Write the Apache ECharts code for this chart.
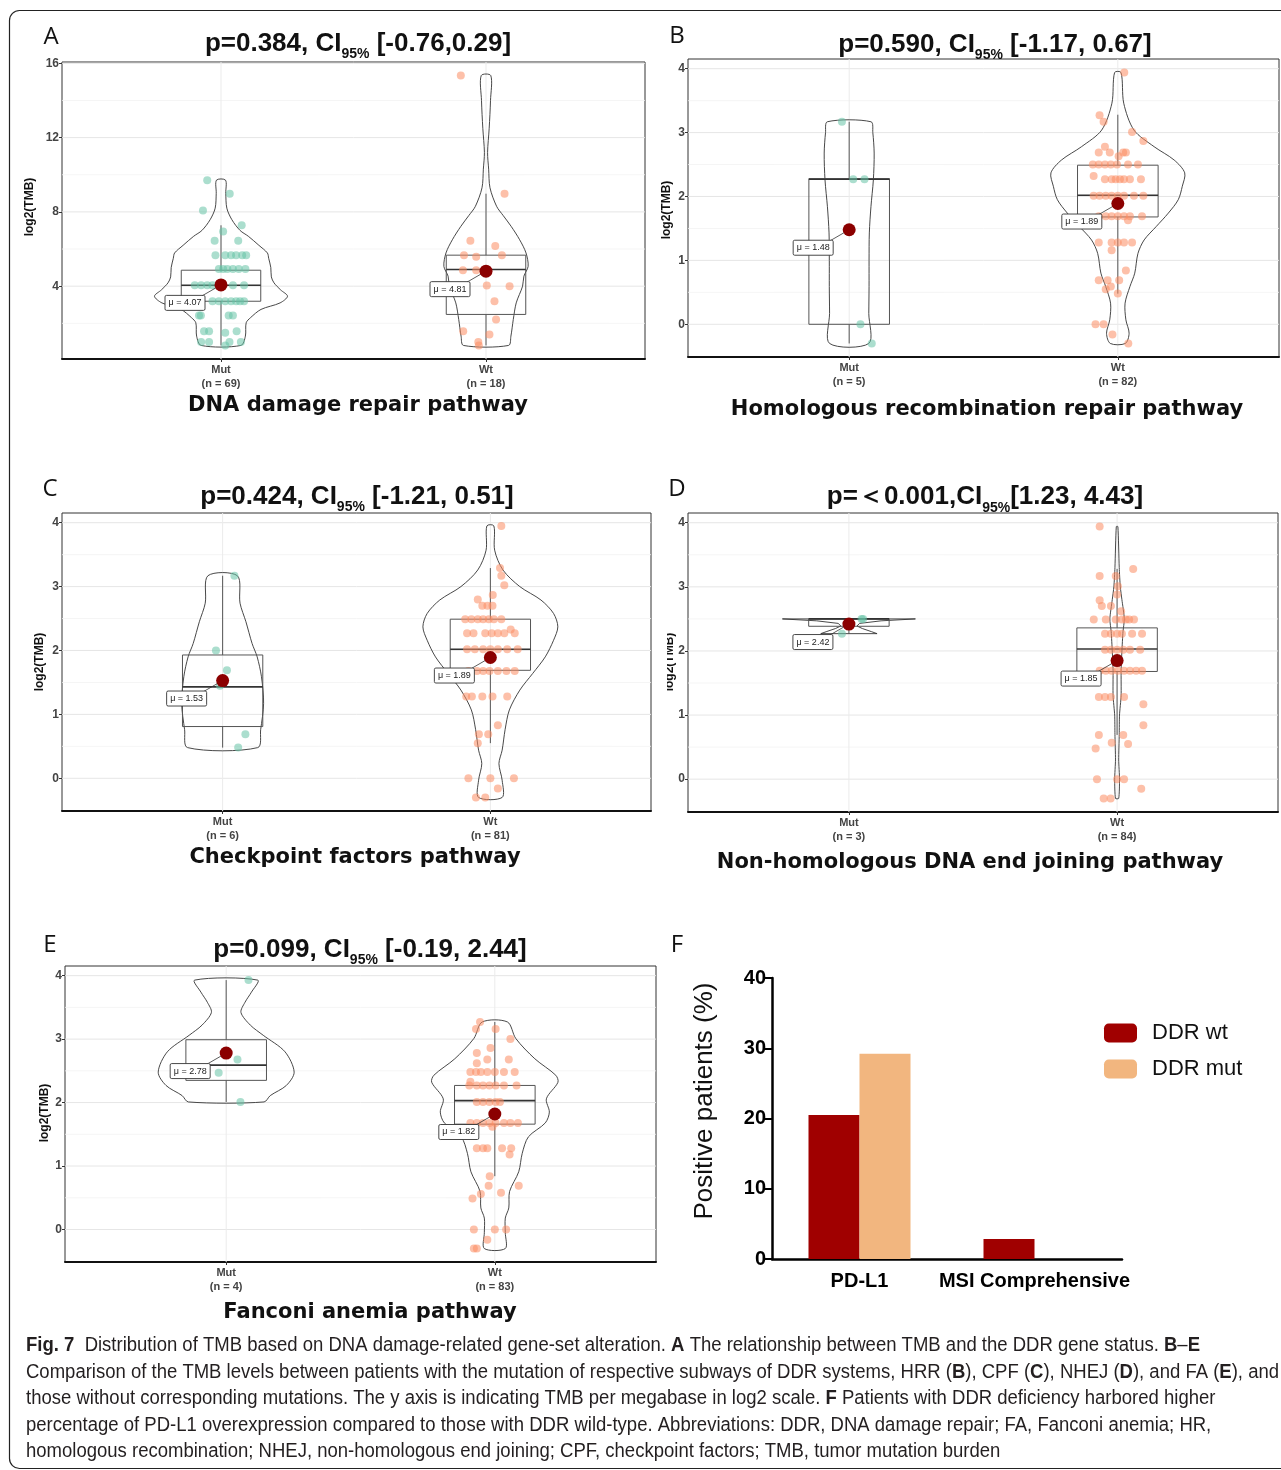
<!DOCTYPE html>
<html><head><meta charset="utf-8">
<script src="https://cdn.jsdelivr.net/npm/echarts@6/dist/echarts.min.js"></script>
<style>html,body{margin:0;padding:0;background:#fff}#c{width:1281px;height:1470px}</style>
</head><body><div id="c"></div>
<script>
// ================= DATA =================
const groups = ['Mut', 'Wt'];
const yTicksA = [4, 8, 12, 16];
const yMinorA = [2, 6, 10, 14];
const yTicksBE = [0, 1, 2, 3, 4];
const yMinorBE = [0.5, 1.5, 2.5, 3.5];

// ---- Panel A : DNA damage repair pathway ----
const A_n = [69, 18];
const A_mean = [4.07, 4.81];
// [lower whisker, Q1, median, Q3, upper whisker]
const A_box = [[0.81, 3.19, 4.05, 4.86, 7.28], [0.81, 2.48, 4.90, 5.67, 8.98]];
// points: [jitter offset, log2(TMB)]
const A_mutPts = [[-0.052,9.71],[0.033,8.98],[-0.068,8.08],[0.078,7.28],[0.008,6.94],[-0.024,6.45],[0.065,6.45],
  [-0.021,5.67],[0.016,5.67],[0.038,5.67],[0.057,5.67],[0.080,5.67],[0.095,5.67],
  [-0.008,4.93],[0.008,4.93],[0.024,4.93],[0.045,4.93],[0.067,4.93],[0.092,4.93],
  [-0.099,4.05],[-0.075,4.05],[-0.052,4.05],[-0.032,4.05],[-0.008,4.05],[0.045,4.05],[0.087,4.05],
  [-0.032,3.19],[-0.008,3.19],[0.016,3.19],[0.038,3.19],[0.057,3.19],[0.072,3.19],[0.087,3.19],
  [-0.083,2.42],[-0.076,2.42],[0.029,2.42],[0.045,2.42],
  [-0.064,1.58],[-0.045,1.58],[0.016,1.49],[0.059,1.58],
  [-0.075,0.99],[-0.045,0.99],[0.032,0.99],[0.075,0.99],[0.016,0.81]];
const A_wtPts = [[-0.095,15.34],[0.070,8.98],[-0.059,6.45],[0.035,6.17],[-0.083,5.67],[-0.037,5.58],[0.060,5.67],
  [-0.087,4.86],[-0.037,4.86],[0.003,4.04],[0.089,4.00],[0.032,3.19],[0.038,2.21],[-0.086,1.58],[0.013,1.40],
  [-0.029,0.99],[-0.027,0.81]];
// violin outline: [log2(TMB), half width]
const A_mutViolin = [[0.81,0.075],[1.31,0.092],[2.03,0.095],[2.3,0.111],[2.75,0.151],[3.1,0.223],[3.46,0.251],[3.8,0.225],
  [4.18,0.2],[4.5,0.19],[5.0,0.188],[5.5,0.18],[5.79,0.175],[6.2,0.143],[6.69,0.103],[7.0,0.072],[7.58,0.041],[8.2,0.022],[9.0,0.018],[9.71,0.017]];
const A_wtViolin = [[0.81,0.085],[1.31,0.094],[2.21,0.103],[3.1,0.114],[4.0,0.138],[4.54,0.143],[5.07,0.159],[5.79,0.151],
  [6.5,0.127],[7.22,0.095],[7.8,0.065],[8.3,0.040],[9.3,0.015],[10.3,0.010],[11.2,0.006],[12.5,0.012],[14.0,0.017],[15.34,0.018]];

// ---- Panel B : Homologous recombination repair pathway ----
const B_n = [5, 82];
const B_mean = [1.48, 1.89];
const B_box = [[-0.30, 0.00, 2.27, 2.28, 3.17], [0.48, 1.68, 2.02, 2.49, 3.28]];
const B_mutPts = [[-0.027,3.17],[0.015,2.27],[0.057,2.27],[0.042,0.0],[0.084,-0.30]];
const B_wtPts = [[0.024,3.94],[-0.068,3.27],[-0.053,3.17],[0.053,3.01],[0.095,2.87],[-0.048,2.78],[-0.071,2.69],[-0.030,2.69],
  [0.003,2.63],[0.020,2.69],[0.030,2.69],
  [-0.093,2.50],[-0.071,2.50],[-0.048,2.50],[-0.026,2.50],[-0.003,2.50],[0.038,2.50],[0.075,2.50],
  [-0.090,2.32],
  [-0.048,2.27],[-0.023,2.27],[-0.008,2.27],[0.008,2.27],[0.023,2.27],[0.045,2.27],[0.086,2.27],
  [-0.090,2.01],[-0.068,2.01],[-0.045,2.01],[-0.023,2.01],[0.000,2.01],[0.023,2.01],[0.060,2.01],[0.095,2.01],
  [-0.071,1.69],[-0.045,1.69],[-0.023,1.69],[0.000,1.69],[0.023,1.69],[0.045,1.69],[0.090,1.69],[0.038,1.63],
  [-0.071,1.28],[-0.023,1.28],[0.000,1.28],[0.023,1.28],[0.053,1.28],[-0.023,1.16],[0.030,0.84],
  [-0.071,0.69],[-0.038,0.69],[0.005,0.69],[-0.045,0.55],[-0.026,0.59],[0.000,0.48],
  [-0.083,0.0],[-0.053,0.0],[-0.020,-0.16],[0.039,-0.30]];
const B_mutViolin = [[-0.3,0.073],[0.17,0.073],[0.59,0.074],[1.0,0.074],[1.43,0.075],[1.84,0.081],[2.26,0.09],[2.68,0.093],[3.0,0.088],[3.17,0.081]];
const B_wtViolin = [[-0.3,0.028],[-0.14,0.042],[0.07,0.03],[0.33,0.027],[0.59,0.045],[0.8,0.063],[1.11,0.075],[1.32,0.098],
  [1.53,0.143],[1.74,0.188],[1.95,0.225],[2.16,0.24],[2.37,0.249],[2.57,0.21],[2.78,0.135],[3.04,0.06],[3.46,0.022],[3.94,0.012]];

// ---- Panel C : Checkpoint factors pathway ----
const C_n = [6, 81];
const C_mean = [1.53, 1.89];
const C_box = [[0.48, 0.81, 1.43, 1.93, 3.17], [0.55, 1.69, 2.02, 2.49, 3.29]];
const C_mutPts = [[0.044,3.17],[-0.025,2.0],[0.016,1.69],[0.085,0.69],[0.058,0.48],[-0.010,1.45]];
const C_wtPts = [[0.041,3.95],[0.036,3.29],[0.041,3.17],[0.052,3.02],[-0.047,2.80],[0.009,2.87],[-0.030,2.70],[-0.011,2.70],[0.008,2.70],
  [-0.094,2.49],[-0.071,2.49],[-0.047,2.49],[-0.027,2.49],[-0.006,2.49],[0.013,2.49],[0.041,2.49],[0.076,2.33],
  [-0.087,2.27],[-0.063,2.27],[-0.019,2.27],[0.005,2.27],[0.028,2.27],[0.052,2.27],[0.091,2.27],
  [-0.087,2.02],[-0.058,2.02],[-0.027,2.02],[0.000,2.02],[0.028,2.02],[0.063,2.02],[0.102,2.02],
  [-0.082,1.68],[-0.050,1.68],[-0.027,1.68],[-0.003,1.68],[0.028,1.68],[0.060,1.68],[0.091,1.68],
  [-0.090,1.28],[-0.069,1.28],[-0.030,1.28],[0.008,1.28],[0.063,1.28],[0.028,0.83],
  [-0.043,0.69],[-0.008,0.69],[-0.047,0.55],[-0.082,0.0],[0.000,0.0],[0.088,0.0],[0.028,-0.16],[-0.054,-0.30],[-0.019,-0.30]];
const C_mutViolin = [[0.48,0.131],[0.76,0.142],[1.17,0.153],[1.59,0.145],[1.9,0.129],[2.11,0.11],[2.45,0.087],[2.74,0.065],[3.17,0.055]];
const C_wtViolin = [[-0.30,0.044],[-0.03,0.044],[0.23,0.032],[0.44,0.044],[0.76,0.055],[1.07,0.071],[1.38,0.11],[1.64,0.158],
  [1.9,0.205],[2.16,0.236],[2.37,0.252],[2.58,0.236],[2.79,0.189],[3.0,0.11],[3.26,0.047],[3.57,0.016],[3.95,0.013]];

// ---- Panel D : Non-homologous DNA end joining pathway ----
const D_n = [3, 84];
const D_mean = [2.42, 1.85];
const D_box = [[2.27, 2.385, 2.50, 2.50, 2.50], [0.69, 1.68, 2.03, 2.36, 3.28]];
const D_mutPts = [[0.047,2.5],[0.053,2.5],[-0.026,2.27]];
const D_wtPts = [[-0.065,3.94],[0.060,3.28],[-0.065,3.17],[-0.005,3.17],[0.003,3.01],[0.000,2.88],[-0.065,2.79],[-0.057,2.70],[-0.023,2.70],[0.015,2.62],
  [-0.087,2.49],[-0.042,2.49],[-0.005,2.49],[0.018,2.49],[0.033,2.49],[0.045,2.49],[0.063,2.49],
  [-0.045,2.27],[-0.023,2.27],[0.000,2.27],[0.018,2.27],[0.056,2.27],[0.093,2.27],
  [-0.045,2.02],[-0.023,2.02],[0.000,2.02],[0.023,2.02],[0.048,2.02],[0.086,2.02],
  [-0.065,1.69],[-0.042,1.69],[-0.020,1.69],[0.003,1.69],[0.026,1.69],[0.048,1.69],[0.071,1.69],[0.093,1.69],
  [-0.068,1.28],[-0.045,1.28],[-0.023,1.28],[0.026,1.28],[0.098,1.17],[0.098,0.84],
  [-0.068,0.69],[0.023,0.69],[-0.080,0.48],[-0.020,0.57],[0.041,0.55],
  [-0.075,0.0],[0.000,0.0],[0.026,0.0],[0.090,-0.15],[-0.050,-0.30],[-0.024,-0.30]];
const D_mutViolin = [[2.27,0.105],[2.3,0.085],[2.35,0.05],[2.39,0.03],[2.43,0.04],[2.47,0.12],[2.5,0.248]];
const D_wtViolin = [[-0.3,0.006],[0.0,0.009],[0.3,0.006],[0.7,0.008],[1.0,0.009],[1.3,0.015],[1.7,0.015],[2.0,0.018],
  [2.3,0.022],[2.5,0.027],[2.8,0.018],[3.0,0.012],[3.3,0.008],[3.94,0.003]];

// ---- Panel E : Fanconi anemia pathway ----
const E_n = [4, 83];
const E_mean = [2.78, 1.82];
const E_box = [[2.01, 2.35, 2.59, 2.99, 3.93], [0.84, 1.66, 2.03, 2.27, 3.27]];
const E_mutPts = [[0.083,3.93],[0.042,2.68],[-0.028,2.47],[0.053,2.01]];
const E_wtPts = [[-0.055,3.27],[-0.070,3.16],[0.003,3.16],[0.058,3.00],[-0.067,2.78],[-0.016,2.86],[-0.028,2.68],[0.052,2.68],[-0.067,2.62],
  [-0.091,2.48],[-0.070,2.48],[-0.052,2.48],[-0.028,2.48],[0.000,2.48],[0.034,2.48],[0.074,2.48],[-0.091,2.33],
  [-0.095,2.27],[-0.067,2.27],[-0.044,2.27],[-0.020,2.27],[0.003,2.27],[0.034,2.27],[0.081,2.27],
  [-0.067,2.01],[-0.044,2.01],[-0.020,2.01],[0.003,2.01],[0.019,2.01],
  [-0.091,1.68],[-0.067,1.68],[-0.044,1.68],[-0.020,1.68],[0.003,1.68],[0.034,1.68],[0.058,1.68],[0.086,1.68],[-0.009,1.62],
  [-0.067,1.28],[-0.044,1.28],[-0.028,1.28],[0.027,1.28],[0.061,1.28],[0.055,1.18],[-0.019,0.84],
  [-0.023,0.69],[0.089,0.69],[0.023,0.58],[-0.052,0.56],[-0.083,0.49],
  [-0.078,0.0],[0.000,0.0],[0.042,0.0],[-0.028,-0.16],[-0.078,-0.30],[-0.067,-0.30]];
const E_mutViolin = [[2.01,0.141],[2.11,0.164],[2.27,0.224],[2.48,0.253],[2.8,0.219],[3.06,0.138],[3.22,0.09],[3.42,0.055],[3.58,0.07],[3.74,0.094],[3.93,0.117]];
const E_wtViolin = [[-0.3,0.039],[-0.05,0.039],[0.18,0.039],[0.34,0.052],[0.6,0.055],[0.91,0.089],[1.2,0.102],[1.46,0.125],
  [1.68,0.188],[1.85,0.203],[2.06,0.192],[2.32,0.235],[2.43,0.227],[2.69,0.149],[3.01,0.078],[3.27,0.047]];

// ---- Panel F : positive patients (%) ----
const F_categories = ['PD-L1', 'MSI Comprehensive'];
const F_ddrWt = [20.5, 2.85];
const F_ddrMut = [29.2, 0];

// ================= RENDERING =================
const FONT = '"Liberation Sans", Arial, sans-serif';
const mutColor = '#66c2a5', wtColor = '#fc8d62';

const panels = [
  {grid:{left:62, top:62, width:583, height:297}, y:[0.08,16.07], ticks:yTicksA, minor:yMinorA,
   n:A_n, mean:A_mean, box:A_box, pts:[A_mutPts,A_wtPts], vio:[A_mutViolin,A_wtViolin], smooth:[0.3,0.3]},
  {grid:{left:688, top:59, width:591, height:298}, y:[-0.512,4.152], ticks:yTicksBE, minor:yMinorBE,
   n:B_n, mean:B_mean, box:B_box, pts:[B_mutPts,B_wtPts], vio:[B_mutViolin,B_wtViolin], smooth:[0.3,0.3]},
  {grid:{left:62, top:513, width:589, height:298}, y:[-0.512,4.152], ticks:yTicksBE, minor:yMinorBE,
   n:C_n, mean:C_mean, box:C_box, pts:[C_mutPts,C_wtPts], vio:[C_mutViolin,C_wtViolin], smooth:[0.3,0.3]},
  {grid:{left:688, top:513, width:590, height:299}, y:[-0.512,4.152], ticks:yTicksBE, minor:yMinorBE,
   n:D_n, mean:D_mean, box:D_box, pts:[D_mutPts,D_wtPts], vio:[D_mutViolin,D_wtViolin], smooth:[0,0.2]},
  {grid:{left:65, top:966, width:591, height:296}, y:[-0.512,4.152], ticks:yTicksBE, minor:yMinorBE,
   n:E_n, mean:E_mean, box:E_box, pts:[E_mutPts,E_wtPts], vio:[E_mutViolin,E_wtViolin], smooth:[0.3,0.3]}
];

const grids = [], xAxes = [], yAxes = [], series = [];
const tickLabel = {color:'#444', fontSize:12, fontWeight:'bold', fontFamily:FONT};

panels.forEach((P, i) => {
  grids.push(Object.assign({show:true, borderColor:'#333', borderWidth:1, backgroundColor:'#fff'}, P.grid));
  xAxes.push({gridIndex:i, type:'value', min:0.4, max:2.6,
    axisLine:{show:true, onZero:false, lineStyle:{color:'#111', width:2}},
    axisTick:{show:true, customValues:[1,2], length:3, lineStyle:{color:'#333'}},
    axisLabel:Object.assign({customValues:[1,2], margin:4, lineHeight:14,
      formatter: v => groups[Math.round(v)-1] + '\n(n = ' + P.n[Math.round(v)-1] + ')'}, tickLabel, {fontSize:11}),
    splitLine:{show:false}});
  yAxes.push({gridIndex:i, type:'value', min:P.y[0], max:P.y[1],
    axisLine:{show:false},
    axisTick:{show:true, customValues:P.ticks, length:3, lineStyle:{color:'#333'}},
    axisLabel:Object.assign({customValues:P.ticks, margin:3}, tickLabel),
    splitLine:{show:false}});

  // grid lines (major / minor horizontal, vertical at groups)
  const gl = P.ticks.map(t => [1, t, 0]).concat(P.minor.map(t => [1, t, 1])).concat([[1, P.ticks[0], 2], [2, P.ticks[0], 2]]);
  series.push({type:'custom', xAxisIndex:i, yAxisIndex:i, z:1, silent:true, data:gl,
    renderItem:(params, api) => {
      const cs = params.coordSys, kind = api.value(2);
      if (kind === 2) {
        const x = api.coord([api.value(0), api.value(1)])[0];
        return {type:'line', shape:{x1:x, y1:cs.y, x2:x, y2:cs.y+cs.height}, style:{stroke:'#ebebeb', lineWidth:1}};
      }
      const y = api.coord([1, api.value(1)])[1];
      return {type:'line', shape:{x1:cs.x, y1:y, x2:cs.x+cs.width, y2:y},
        style:{stroke: kind === 0 ? '#e6e6e6' : '#f2f2f2', lineWidth: kind === 0 ? 1 : 0.8}};
    }});

  // violins
  series.push({type:'custom', xAxisIndex:i, yAxisIndex:i, z:2, silent:true,
    data:[[1, P.box[0][2]], [2, P.box[1][2]]],
    renderItem:(params, api) => {
      const g = params.dataIndex, prof = P.vio[g], cx = api.value(0);
      const right = prof.map(([y, hw]) => api.coord([cx + hw, y]));
      const left = prof.slice().reverse().map(([y, hw]) => api.coord([cx - hw, y]));
      return {type:'polygon', shape:{points:right.concat(left), smooth:P.smooth[g]},
        style:{fill:'none', stroke:'#333', lineWidth:0.9}};
    }});

  // boxes
  series.push({type:'custom', xAxisIndex:i, yAxisIndex:i, z:3, silent:true,
    data:[[1, P.box[0][2]], [2, P.box[1][2]]],
    renderItem:(params, api) => {
      const g = params.dataIndex, b = P.box[g], cx = api.value(0), hw = 0.15;
      const tl = api.coord([cx - hw, b[3]]), br = api.coord([cx + hw, b[1]]);
      const mL = api.coord([cx - hw, b[2]]), mR = api.coord([cx + hw, b[2]]);
      const top = api.coord([cx, b[4]]), q3 = api.coord([cx, b[3]]), q1 = api.coord([cx, b[1]]), bot = api.coord([cx, b[0]]);
      const st = {stroke:'#555', lineWidth:1, fill:'none'};
      return {type:'group', children:[
        {type:'line', shape:{x1:top[0], y1:top[1], x2:q3[0], y2:q3[1]}, style:st},
        {type:'line', shape:{x1:q1[0], y1:q1[1], x2:bot[0], y2:bot[1]}, style:st},
        {type:'rect', shape:{x:tl[0], y:tl[1], width:br[0]-tl[0], height:br[1]-tl[1]}, style:st},
        {type:'line', shape:{x1:mL[0], y1:mL[1], x2:mR[0], y2:mR[1]}, style:{stroke:'#333', lineWidth:1.6}}
      ]};
    }});

  // jittered points
  [0, 1].forEach(g => {
    series.push({type:'scatter', xAxisIndex:i, yAxisIndex:i, z:4, silent:true, symbolSize:8,
      data:P.pts[g].map(([dx, y]) => [g + 1 + dx, y]),
      itemStyle:{color: g === 0 ? mutColor : wtColor, opacity:0.55}});
  });

  // mean point + label
  series.push({type:'custom', xAxisIndex:i, yAxisIndex:i, z:5, silent:true,
    data:P.mean.map((m, g) => [g + 1, m]),
    renderItem:(params, api) => {
      const p = api.coord([api.value(0), api.value(1)]);
      const lx = p[0] - 36, ly = p[1] + 18;
      return {type:'group', children:[
        {type:'line', shape:{x1:p[0], y1:p[1], x2:lx + 17, y2:ly - 7}, style:{stroke:'#333', lineWidth:0.8}},
        {type:'rect', shape:{x:lx - 20, y:ly - 7.5, width:40, height:15, r:1.5}, style:{fill:'#fff', stroke:'#333', lineWidth:0.9}},
        {type:'text', style:{x:lx, y:ly, text:'\u03bc = ' + api.value(1).toFixed(2), align:'center', verticalAlign:'middle',
          font:'9px ' + FONT, fill:'#222'}},
        {type:'circle', shape:{cx:p[0], cy:p[1], r:6.5}, style:{fill:'#8b0000'}}
      ]};
    }});
});

// ---- Panel F (bar chart) ----
grids.push({left:772, top:978, width:350, height:281, show:false});
xAxes.push({gridIndex:5, type:'category', data:F_categories,
  axisLine:{lineStyle:{color:'#000', width:2.5}},
  axisTick:{alignWithLabel:true, length:7, lineStyle:{color:'#000', width:2}},
  axisLabel:{interval:0, color:'#000', fontSize:20, fontWeight:'bold', fontFamily:FONT, margin:12}});
yAxes.push({gridIndex:5, type:'value', min:0, max:40, interval:10,
  axisLine:{show:true, lineStyle:{color:'#000', width:2.5}},
  axisTick:{show:true, length:7, lineStyle:{color:'#000', width:2}},
  axisLabel:{color:'#000', fontSize:20, fontWeight:'bold', fontFamily:FONT, margin:6},
  splitLine:{show:false}});
series.push({name:'DDR wt', type:'bar', xAxisIndex:5, yAxisIndex:5, data:F_ddrWt, barWidth:51, barGap:'0%',
  itemStyle:{color:'#a00000'}});
series.push({name:'DDR mut', type:'bar', xAxisIndex:5, yAxisIndex:5, data:F_ddrMut, barWidth:51, barGap:'0%',
  itemStyle:{color:'#f2b67f'}});

// ---- text helpers ----
const mctx = document.createElement('canvas').getContext('2d');
function tw(font, s) { mctx.font = font; return mctx.measureText(s).width; }
function subTitle(cx, cy, a, sub, b) {
  const F = 'bold 26px ' + FONT, FS = 'bold 14px ' + FONT;
  const w1 = tw(F, a), w2 = tw(FS, sub), w3 = tw(F, b);
  const x = cx - (w1 + w2 + w3) / 2;
  return [
    {type:'text', x:x, y:cy, style:{text:a, font:F, fill:'#111', verticalAlign:'middle'}},
    {type:'text', x:x + w1, y:cy + 11, style:{text:sub, font:FS, fill:'#111', verticalAlign:'middle'}},
    {type:'text', x:x + w1 + w2, y:cy, style:{text:b, font:F, fill:'#111', verticalAlign:'middle'}}
  ];
}
function txt(x, y, s, font, opts) {
  return Object.assign({type:'text', x:x, y:y, style:{text:s, font:font, fill:'#111', align:'center', verticalAlign:'middle'}}, opts || {});
}
const letterFont = '24px "Open Sans", sans-serif';
const bottomFont = 'bold 21px "DejaVu Sans", sans-serif';
const yTitleFont = 'bold 12px ' + FONT;

// caption: condensed look obtained by horizontal scaling of Liberation Sans
const capLines = [
  '{b|Fig. 7}  Distribution of TMB based on DNA damage-related gene-set alteration. {b|A} The relationship between TMB and the DDR gene status. {b|B}\u2013{b|E}',
  'Comparison of the TMB levels between patients with the mutation of respective subways of DDR systems, HRR ({b|B}), CPF ({b|C}), NHEJ ({b|D}), and FA ({b|E}), and',
  'those without corresponding mutations. The y axis is indicating TMB per megabase in log2 scale. {b|F} Patients with DDR deficiency harbored higher',
  'percentage of PD-L1 overexpression compared to those with DDR wild-type. Abbreviations: DDR, DNA damage repair; FA, Fanconi anemia; HR,',
  'homologous recombination; NHEJ, non-homologous end joining; CPF, checkpoint factors; TMB, tumor mutation burden'
];
const capY = [1345, 1372, 1398, 1425, 1451];
const capSize = 20;
const capRefWidth = tw(capSize + 'px ' + FONT, capLines[1].replace(/\{b\|([^}]*)\}/g, '$1'));
const capScale = 1252 / capRefWidth;
const capRich = {b:{fontWeight:'bold', fontSize:capSize, fontFamily:FONT, fill:'#231f20'}};
const capGraphics = capLines.map((s, k) => ({type:'text', x:26, y:capY[k], scaleX:capScale,
  style:{text:s, fontSize:capSize, fontFamily:FONT, fill:'#231f20', verticalAlign:'middle', rich:capRich}}));

const graphics = [
  {type:'rect', shape:{x:9.5, y:10.5, width:1300, height:1458, r:10}, style:{fill:'none', stroke:'#222', lineWidth:1.2}},
  txt(51, 37, 'A', letterFont), txt(677, 36, 'B', letterFont), txt(50, 489, 'C', letterFont),
  txt(677, 489, 'D', letterFont), txt(50, 945, 'E', letterFont), txt(677, 945, 'F', letterFont),
  ...subTitle(358, 43.5, 'p=0.384, CI', '95%', ' [-0.76,0.29]'),
  ...subTitle(995, 44.5, 'p=0.590, CI', '95%', ' [-1.17, 0.67]'),
  ...subTitle(357, 496.5, 'p=0.424, CI', '95%', ' [-1.21, 0.51]'),
  ...subTitle(985, 497, 'p=\uff1c0.001,CI', '95%', '[1.23, 4.43]'),
  ...subTitle(370, 949.5, 'p=0.099, CI', '95%', ' [-0.19, 2.44]'),
  txt(358, 406, 'DNA damage repair pathway', bottomFont),
  txt(987, 410, 'Homologous recombination repair pathway', bottomFont),
  txt(355, 858, 'Checkpoint factors pathway', bottomFont),
  txt(970, 863, 'Non-homologous DNA end joining pathway', bottomFont),
  txt(370, 1313, 'Fanconi anemia pathway', bottomFont),
  txt(30, 207, 'log2(TMB)', yTitleFont, {rotation:Math.PI/2}),
  txt(667, 210, 'log2(TMB)', yTitleFont, {rotation:Math.PI/2}),
  txt(40, 662, 'log2(TMB)', yTitleFont, {rotation:Math.PI/2}),
  txt(670, 662, 'log2(TMB)', yTitleFont, {rotation:Math.PI/2}),
  {type:'rect', shape:{x:654, y:620, width:13, height:85}, style:{fill:'#fff'}},
  txt(45, 1113, 'log2(TMB)', yTitleFont, {rotation:Math.PI/2}),
  txt(705, 1101, 'Positive patients (%)', '26px ' + FONT, {rotation:Math.PI/2}),
  ...capGraphics
];

const chart = echarts.init(document.getElementById('c'), null, {renderer:'canvas'});
chart.setOption({
  animation:false,
  backgroundColor:'#fff',
  grid:grids, xAxis:xAxes, yAxis:yAxes, series:series,
  legend:{data:['DDR wt', 'DDR mut'], orient:'vertical', left:1104, top:1022, padding:0, itemWidth:33, itemHeight:19, itemGap:14,
    icon:'roundRect', textStyle:{fontSize:22, fontFamily:FONT, color:'#111', padding:[0,0,0,10]}},
  graphic:{elements:graphics}
});
</script>
</body></html>
